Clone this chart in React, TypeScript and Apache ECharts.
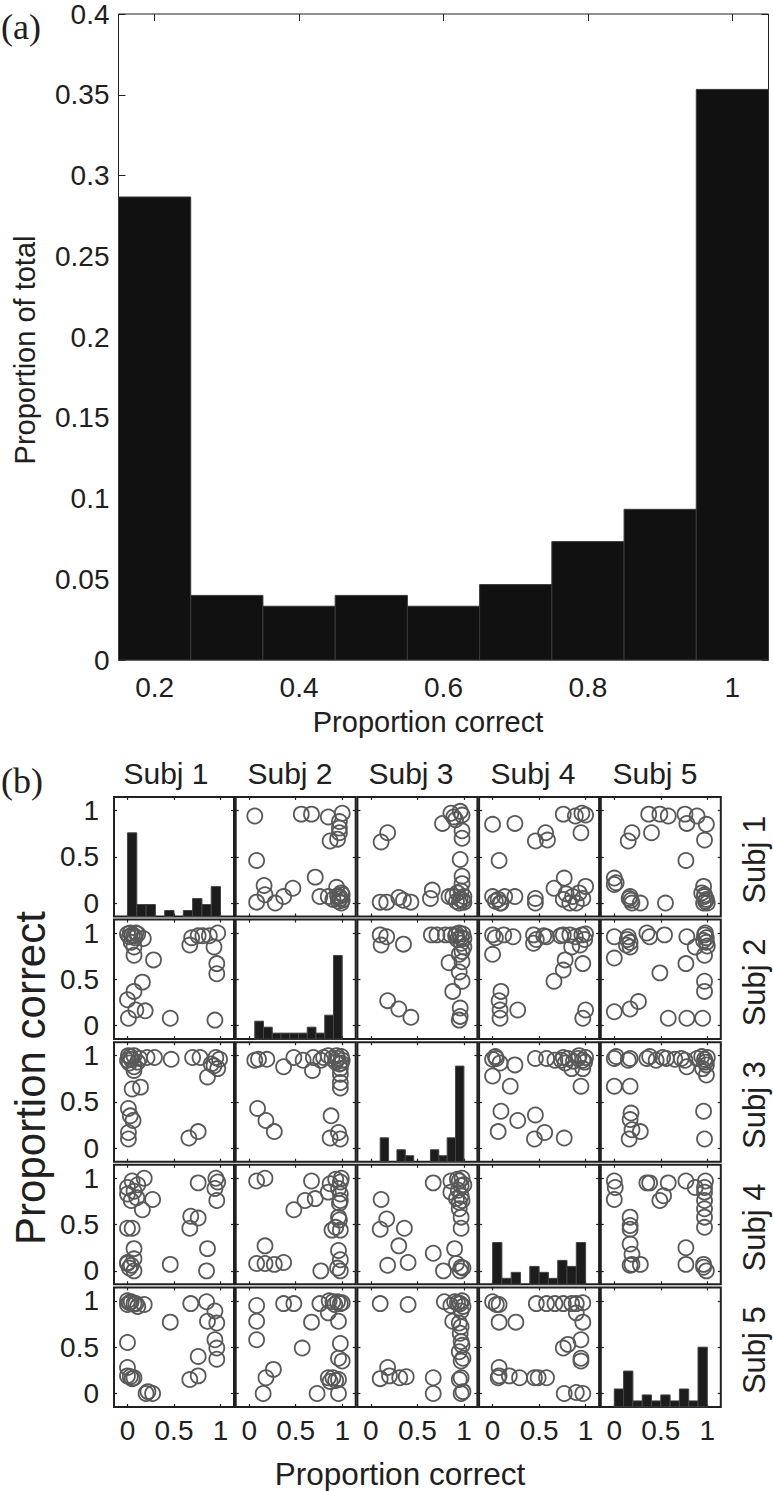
import React, { useEffect, useRef } from "react";
import * as echarts from "echarts";

// ---------------- panel (a) data ----------------
const topBinEdges = [0.15, 0.25, 0.35, 0.45, 0.55, 0.65, 0.75, 0.85, 0.95, 1.05];
const topProportions = [0.2867, 0.04, 0.0333, 0.04, 0.0333, 0.0467, 0.0733, 0.0933, 0.3533];
const topXTicks = [0.2, 0.4, 0.6, 0.8, 1];
const topYMax = 0.4;
const topYStep = 0.05;

// ---------------- panel (b) data ----------------
const subjectNames = ["Subj 1", "Subj 2", "Subj 3", "Subj 4", "Subj 5"];
const cellTicks = [0, 0.5, 1];
const histMaxCount = 20;

// diagonal histograms (10 bins between each subject's min and max)
const histS1 = [14, 2, 2, 0, 1, 0, 1, 3, 2, 5];
const histS2 = [3, 2, 1, 1, 1, 1, 2, 1, 4, 14];
const histS3 = [4, 0, 2, 1, 0, 0, 2, 1, 4, 16];
const histS4 = [7, 1, 2, 0, 3, 2, 1, 4, 3, 7];
const histS5 = [3, 6, 1, 2, 1, 2, 1, 3, 1, 10];
const histRangeS1 = [0, 1];
const histRangeS2 = [0.06, 1];
const histRangeS3 = [0.1, 1];
const histRangeS4 = [0, 1];
const histRangeS5 = [0, 1];

// upper-triangle scatter cells: [x = column subject, y = row subject]
const s1s2 = [[0.06,0.94],[0.56,0.96],[0.67,0.96],[0.85,0.93],[1.0,0.97],[0.97,0.88],[0.97,0.81],[0.97,0.76],[0.87,0.67],[0.95,0.69],[0.08,0.46],[0.16,0.19],[0.08,0.01],[0.17,0.09],[0.28,0.0],[0.37,0.07],[0.47,0.16],[0.71,0.28],[0.76,0.07],[0.85,0.07],[0.94,0.17],[0.97,0.07],[0.99,0.0],[0.9,0.04],[1.0,0.09],[0.96,0.02],[0.98,0.05],[1.0,0.03],[0.95,0.08],[0.99,0.11]];
const s1s3 = [[0.11,0.66],[0.18,0.76],[0.10,0.01],[0.17,0.01],[0.30,0.06],[0.35,0.03],[0.43,0.01],[0.66,0.14],[0.64,0.05],[0.77,0.86],[0.86,0.97],[0.91,0.9],[0.96,0.99],[0.98,0.95],[0.89,0.93],[0.98,0.78],[0.98,0.7],[0.96,0.47],[0.98,0.29],[0.98,0.21],[0.84,0.07],[0.88,0.07],[0.96,0.04],[1.0,0.01],[0.93,0.11],[1.0,0.07],[0.95,0.0],[0.97,0.13],[0.99,0.03],[0.92,0.02]];
const s1s4 = [[0.0,0.85],[0.24,0.86],[0.07,0.46],[0.46,0.67],[0.57,0.76],[0.59,0.68],[0.76,0.96],[0.89,0.94],[0.96,0.97],[1.0,0.95],[0.95,0.76],[0.0,0.07],[0.06,0.04],[0.13,0.07],[0.24,0.07],[0.09,0.0],[0.46,0.0],[0.46,0.05],[0.66,0.16],[0.77,0.27],[0.76,0.04],[0.83,0.0],[0.86,0.07],[0.93,0.11],[1.0,0.18],[0.9,0.0],[0.97,0.05],[0.03,0.02],[0.08,0.0],[0.79,0.1]];
const s1s5 = [[0.0,0.27],[0.0,0.2],[0.02,0.22],[0.15,0.67],[0.19,0.76],[0.4,0.76],[0.37,0.96],[0.49,0.96],[0.58,0.94],[0.76,0.96],[0.89,0.94],[0.78,0.86],[0.99,0.85],[0.97,0.68],[0.77,0.46],[0.17,0.07],[0.19,0.0],[0.28,0.0],[0.55,0.0],[0.96,0.18],[0.97,0.07],[0.96,0.0],[0.99,0.04],[0.94,0.11],[0.16,0.05],[0.18,0.03],[0.98,0.02],[0.97,0.09],[1.0,0.0]];
const s2s3 = [[0.1,0.98],[0.17,0.96],[0.11,0.87],[0.35,0.88],[0.18,0.27],[0.3,0.18],[0.43,0.09],[0.65,0.98],[0.71,0.98],[0.8,0.98],[0.86,0.98],[0.91,0.97],[0.95,1.0],[0.99,0.99],[0.93,0.93],[0.97,0.89],[1.0,0.94],[0.84,0.68],[0.95,0.77],[0.98,0.69],[0.95,0.58],[0.98,0.48],[0.88,0.37],[0.96,0.19],[0.96,0.1],[0.95,0.06],[0.97,0.95],[1.0,0.85],[0.92,0.99],[0.98,0.8]];
const s2s4 = [[0.0,0.98],[0.03,0.95],[0.12,0.98],[0.22,0.96],[0.0,0.77],[0.44,0.98],[0.44,0.89],[0.47,0.93],[0.55,0.97],[0.58,0.96],[0.76,0.98],[0.73,0.97],[0.83,0.98],[0.89,0.96],[0.96,0.98],[1.0,0.99],[0.94,0.87],[0.85,0.85],[0.97,0.67],[0.78,0.71],[0.76,0.6],[0.66,0.48],[0.09,0.37],[0.07,0.27],[0.08,0.17],[0.08,0.08],[0.27,0.17],[1.0,0.17],[0.97,0.08],[0.99,0.93]];
const s2s5 = [[0.0,0.96],[0.0,0.73],[0.0,0.15],[0.15,0.96],[0.17,0.9],[0.17,0.85],[0.13,0.87],[0.17,0.18],[0.14,0.93],[0.26,0.26],[0.35,1.0],[0.38,0.96],[0.49,0.57],[0.54,0.98],[0.58,0.08],[0.78,0.96],[0.77,0.67],[0.78,0.08],[0.87,0.85],[0.97,0.98],[0.99,0.9],[0.99,0.95],[0.97,0.76],[0.97,0.48],[0.97,0.37],[0.95,0.08],[0.98,1.0],[1.0,0.86],[0.96,0.92]];
const s3s4 = [[0.0,0.96],[0.04,0.97],[0.08,0.92],[0.0,0.78],[0.03,0.99],[0.24,0.9],[0.19,0.67],[0.46,0.97],[0.58,0.97],[0.67,0.95],[0.74,0.95],[0.76,0.98],[0.78,0.92],[0.81,0.97],[0.87,0.94],[0.92,0.97],[0.97,0.95],[1.0,0.98],[0.85,0.86],[0.97,0.86],[0.95,0.67],[0.93,1.0],[0.99,0.93],[0.09,0.4],[0.27,0.3],[0.46,0.36],[0.56,0.17],[0.45,0.1],[0.06,0.18],[0.77,0.11]];
const s3s5 = [[0.0,0.97],[0.02,0.99],[0.0,0.67],[0.17,0.97],[0.17,0.67],[0.18,0.38],[0.17,0.31],[0.19,0.2],[0.16,0.1],[0.15,0.95],[0.28,0.18],[0.35,0.97],[0.38,0.99],[0.45,0.95],[0.56,0.97],[0.52,0.98],[0.65,0.96],[0.76,0.95],[0.78,0.88],[0.72,0.97],[0.89,0.97],[0.97,0.96],[0.99,0.9],[0.99,0.79],[0.95,0.86],[0.96,0.4],[0.97,0.1],[1.0,0.98],[0.98,0.93],[0.94,0.99]];
const s4s5 = [[0.0,0.97],[0.01,0.9],[0.0,0.77],[0.17,0.58],[0.17,0.49],[0.17,0.45],[0.17,0.29],[0.19,0.18],[0.19,0.07],[0.28,0.07],[0.35,0.95],[0.38,0.95],[0.49,0.76],[0.53,0.81],[0.58,0.95],[0.77,0.97],[0.87,0.9],[0.97,0.9],[0.97,0.85],[0.97,0.76],[0.97,0.67],[0.97,0.58],[0.97,0.47],[0.77,0.25],[0.77,0.07],[0.96,0.07],[0.99,0.0],[0.96,0.04],[0.17,0.06],[0.98,0.97]];

const histCounts = [histS1, histS2, histS3, histS4, histS5];
const histRanges = [histRangeS1, histRangeS2, histRangeS3, histRangeS4, histRangeS5];
const upperPairs: Record<string, number[][]> = {
  "0-1": s1s2, "0-2": s1s3, "0-3": s1s4, "0-4": s1s5,
  "1-2": s2s3, "1-3": s2s4, "1-4": s2s5,
  "2-3": s3s4, "2-4": s3s5,
  "3-4": s4s5,
};

// ---------------- styling / layout ----------------
const FONT = "'Liberation Sans', Arial, Helvetica, sans-serif";
const SERIF = "'Liberation Serif', 'DejaVu Serif', serif";
const INK = "#202020";
const AX_MIN = -0.145;
const AX_MAX = 1.145;
const COL_LEFT0 = 114;
const COL_PITCH = 121.7;
const CELL_W = 120;
const ROW_TOP0 = 797;
const ROW_PITCH = 122.6;
const CELL_H = 119.5;

function histRenderer(fill: string, stroke: string) {
  return (_params: any, api: any) => {
    const a = api.coord([api.value(0), api.value(2)]);
    const b = api.coord([api.value(1), 0]);
    return {
      type: "rect",
      shape: { x: a[0], y: a[1], width: b[0] - a[0], height: b[1] - a[1] },
      style: { fill, stroke, lineWidth: 1 },
    };
  };
}

function buildOption() {
  const grid: any[] = [];
  const xAxis: any[] = [];
  const yAxis: any[] = [];
  const series: any[] = [];
  const graphic: any[] = [];

  // ---------- panel (a) ----------
  grid.push({ left: 118.5, top: 9.6, width: 650, height: 650.4, show: true, borderColor: INK, borderWidth: 1, backgroundColor: "rgba(0,0,0,0)" });
  const topTick = { show: true, inside: true, length: 7, lineStyle: { color: INK, width: 1 } };
  xAxis.push({
    gridIndex: 0, type: "value", min: topBinEdges[0], max: topBinEdges[topBinEdges.length - 1], position: "bottom",
    axisLine: { show: false, onZero: false },
    axisTick: { ...topTick, customValues: topXTicks },
    axisLabel: { show: true, customValues: topXTicks, margin: 13, fontSize: 28, color: INK, fontFamily: FONT },
    splitLine: { show: false },
  });
  xAxis.push({
    gridIndex: 0, type: "value", min: topBinEdges[0], max: topBinEdges[topBinEdges.length - 1], position: "top",
    axisLine: { show: false, onZero: false },
    axisTick: { ...topTick, customValues: topXTicks },
    axisLabel: { show: false }, splitLine: { show: false },
  });
  yAxis.push({
    gridIndex: 0, type: "value", min: 0, max: topYMax, interval: topYStep, position: "left",
    axisLine: { show: false, onZero: false }, axisTick: topTick,
    axisLabel: { show: true, margin: 9, fontSize: 28, color: INK, fontFamily: FONT },
    splitLine: { show: false },
  });
  yAxis.push({
    gridIndex: 0, type: "value", min: 0, max: topYMax, interval: topYStep, position: "right",
    axisLine: { show: false, onZero: false }, axisTick: topTick,
    axisLabel: { show: false }, splitLine: { show: false },
  });
  series.push({
    type: "custom", xAxisIndex: 0, yAxisIndex: 0, silent: true,
    renderItem: histRenderer("#111111", "#3a3a3a"),
    data: topProportions.map((p, i) => [topBinEdges[i], topBinEdges[i + 1], p]),
  });

  // ---------- panel (b) ----------
  for (let r = 0; r < 5; r++) {
    for (let c = 0; c < 5; c++) {
      const gi = grid.length;
      grid.push({
        left: COL_LEFT0 + c * COL_PITCH, top: ROW_TOP0 + r * ROW_PITCH, width: CELL_W, height: CELL_H,
        show: true, borderColor: INK, borderWidth: 2, backgroundColor: "rgba(0,0,0,0)",
      });
      const tick = { show: true, inside: true, length: 3, customValues: cellTicks, lineStyle: { color: INK, width: 1.2 } };
      const xi = xAxis.length;
      xAxis.push({
        gridIndex: gi, type: "value", min: AX_MIN, max: AX_MAX, position: "bottom",
        axisLine: { show: false, onZero: false }, axisTick: tick,
        axisLabel: r === 4
          ? { show: true, customValues: cellTicks, margin: 10, fontSize: 28, color: INK, fontFamily: FONT }
          : { show: false },
        splitLine: { show: false },
      });
      xAxis.push({
        gridIndex: gi, type: "value", min: AX_MIN, max: AX_MAX, position: "top",
        axisLine: { show: false, onZero: false }, axisTick: tick, axisLabel: { show: false }, splitLine: { show: false },
      });
      const yi = yAxis.length;
      yAxis.push({
        gridIndex: gi, type: "value", min: AX_MIN, max: AX_MAX, position: "left",
        axisLine: { show: false, onZero: false }, axisTick: tick,
        axisLabel: c === 0
          ? { show: true, customValues: cellTicks, margin: 15, fontSize: 28, color: INK, fontFamily: FONT }
          : { show: false },
        splitLine: { show: false },
      });
      yAxis.push({
        gridIndex: gi, type: "value", min: AX_MIN, max: AX_MAX, position: "right",
        axisLine: { show: false, onZero: false }, axisTick: tick, axisLabel: { show: false }, splitLine: { show: false },
      });

      if (r === c) {
        const hi = yAxis.length;
        yAxis.push({ gridIndex: gi, type: "value", min: 0, max: histMaxCount, show: false });
        const counts = histCounts[r];
        const [lo, hiV] = histRanges[r];
        const w = (hiV - lo) / counts.length;
        const data = counts
          .map((n, k) => [lo + k * w, lo + (k + 1) * w, n])
          .filter((d) => d[2] > 0);
        series.push({
          type: "custom", xAxisIndex: xi, yAxisIndex: hi, silent: true,
          renderItem: histRenderer("#1c1c1c", "#444444"), data,
        });
      } else {
        const key = r < c ? `${r}-${c}` : `${c}-${r}`;
        const pts = upperPairs[key];
        const data = r < c ? pts.map((p) => [p[0], p[1]]) : pts.map((p) => [p[1], p[0]]);
        series.push({
          type: "scatter", xAxisIndex: xi, yAxisIndex: yi, silent: true, clip: false,
          symbol: "circle", symbolSize: 15, data,
          itemStyle: { color: "rgba(0,0,0,0)", borderColor: "#595959", borderWidth: 1.8, opacity: 1 },
        });
      }
    }
  }

  // ---------- texts ----------
  const txt = (text: string, x: number, y: number, size: number, rot = 0, fam = FONT, align = "center") => ({
    type: "text", x, y, rotation: rot, silent: true,
    style: { text, fontSize: size, fontFamily: fam, fill: INK, textAlign: align, textVerticalAlign: "middle" },
  });
  graphic.push(txt("(a)", 1, 27, 36, 0, SERIF, "left"));
  graphic.push(txt("(b)", 1, 781, 36, 0, SERIF, "left"));
  graphic.push(txt("Proportion of total", 25, 350, 29, Math.PI / 2));
  graphic.push(txt("Proportion correct", 428, 722, 29));
  const headerX = [166, 290, 411, 533, 655];
  subjectNames.forEach((name, i) => {
    graphic.push(txt(name, headerX[i], 773, 30));
    graphic.push(txt(name, 754, ROW_TOP0 + i * ROW_PITCH + CELL_H / 2 + 3, 31, Math.PI / 2));
  });
  graphic.push(txt("Proportion correct", 400, 1474, 31.5));
  graphic.push(txt("Proportion correct", 30, 1078, 42, Math.PI / 2));

  return { animation: false, backgroundColor: "#ffffff", grid, xAxis, yAxis, series, graphic };
}

export default function App() {
  const ref = useRef<HTMLDivElement>(null);
  useEffect(() => {
    if (!ref.current) return;
    const chart = echarts.init(ref.current, null, { renderer: "svg" });
    chart.setOption(buildOption());
    return () => chart.dispose();
  }, []);
  return (
    <div
      ref={ref}
      style={{ position: "absolute", left: 0, top: 0, width: 773, height: 1491, background: "#ffffff" }}
    />
  );
}
